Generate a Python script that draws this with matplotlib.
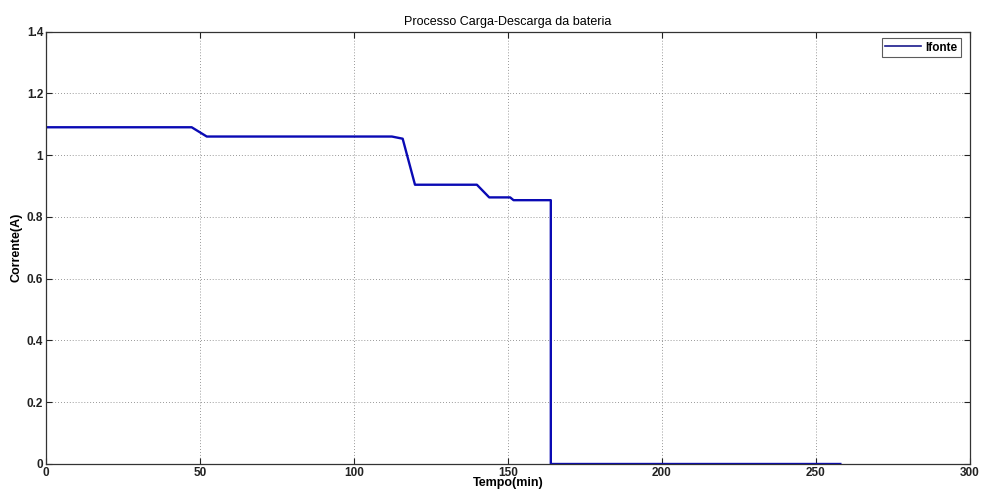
import matplotlib
matplotlib.use("Agg")
import matplotlib.pyplot as plt

# Source current during the charge/discharge run (breakpoints of the curve)
tempo_min = [0, 47.3, 52.2, 112.3, 115.8, 119.8, 139.9, 143.9, 150.7, 151.8, 163.9, 163.9, 257.9]
corrente_a = [1.09, 1.09, 1.06, 1.06, 1.053, 0.904, 0.904, 0.863, 0.863, 0.854, 0.854, 0.0, 0.0]

x_ticks = [0, 50, 100, 150, 200, 250, 300]
y_ticks = [0, 0.2, 0.4, 0.6, 0.8, 1.0, 1.2, 1.4]
y_tick_labels = ["0", "0.2", "0.4", "0.6", "0.8", "1", "1.2", "1.4"]

plt.rcParams["font.family"] = ["Liberation Sans", "DejaVu Sans"]

fig = plt.figure(figsize=(9.84, 4.91), dpi=100)
W, H = 984, 491
left, right, top, bottom = 46, 970, 31.5, 464
ax = fig.add_axes([left / W, 1 - bottom / H, (right - left) / W, (bottom - top) / H])

ax.plot(tempo_min, corrente_a, color="#0a0ab4", linewidth=1.7, label="Ifonte")

ax.set_xlim(0, 300)
ax.set_ylim(0, 1.4)
ax.set_xticks(x_ticks)
ax.set_yticks(y_ticks)
ax.set_yticklabels(y_tick_labels)
ax.tick_params(direction="in", length=4, width=0.8, labelsize=8.5, colors="#222222",
               top=True, right=True)
for lab in ax.get_xticklabels() + ax.get_yticklabels():
    lab.set_fontweight("bold")
ax.tick_params(axis="x", pad=2)
ax.tick_params(axis="y", pad=2)

ax.grid(True, linestyle=(0, (1, 2.5)), color="#777777", linewidth=0.6)
for s in ax.spines.values():
    s.set_color("#333333")
    s.set_linewidth(0.9)

ax.set_title("Processo Carga-Descarga da bateria", fontsize=9, pad=5)
ax.set_xlabel("Tempo(min)", fontsize=9, fontweight="bold", labelpad=-1)
ax.set_ylabel("Corrente(A)", fontsize=9, fontweight="bold", labelpad=3)

leg = ax.legend(loc="upper right", fontsize=8.5, frameon=True, fancybox=False,
                handlelength=3.0, borderpad=0.3, handletextpad=0.4,
                bbox_to_anchor=(0.9905, 0.985), borderaxespad=0)
leg.get_frame().set_edgecolor("#333333")
leg.get_frame().set_linewidth(0.8)
for t in leg.get_texts():
    t.set_fontweight("bold")
for l in leg.get_lines():
    l.set_linewidth(1.2)
    l.set_color("#1a1a8c")

fig.savefig("out.png", dpi=100)
